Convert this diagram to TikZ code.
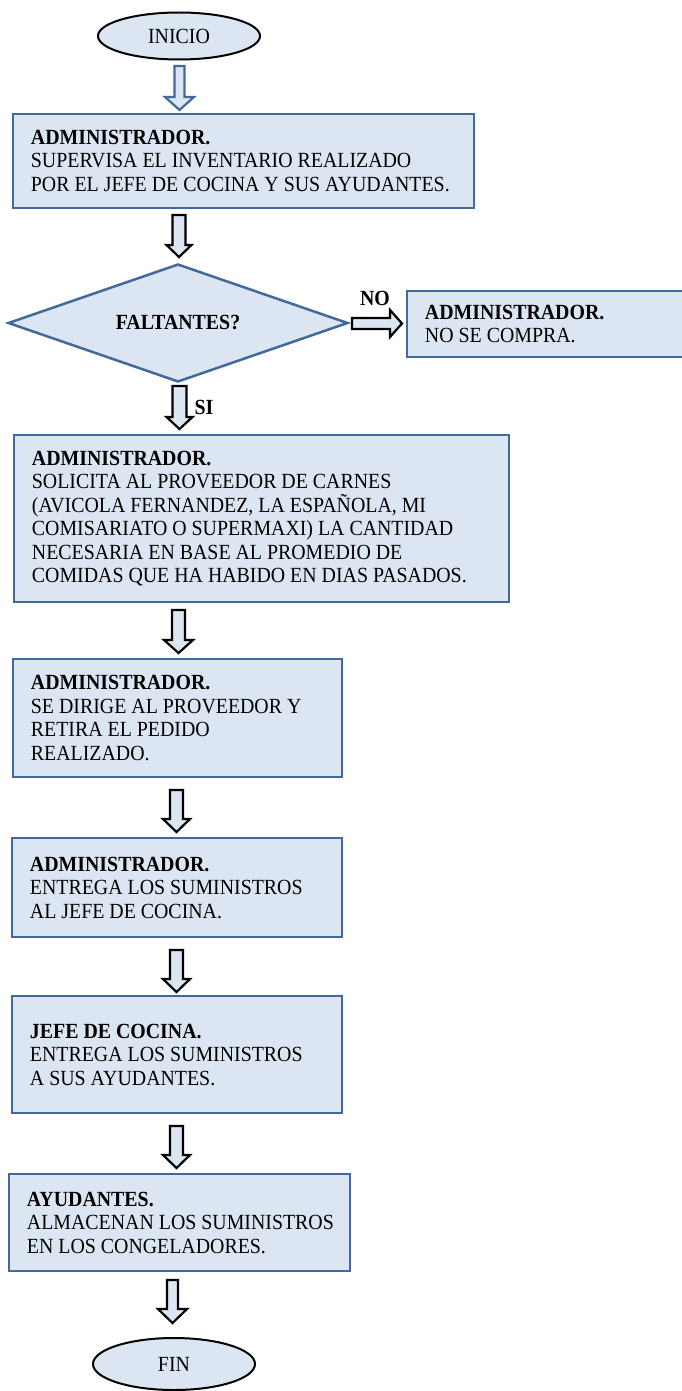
\documentclass[tikz,border=0pt]{standalone}
\usepackage{fontspec}
\setmainfont{Liberation Serif}[FakeStretch=0.92]
\usetikzlibrary{shapes.geometric}
\definecolor{boxfill}{HTML}{DCE6F2}
\definecolor{boxline}{HTML}{41699B}
\newcommand{\arrdown}[6][black]{%
  \begin{scope}[shift={(#2)}]
    \draw[blockarr, draw=#1] (-#3,0) -- (-#3,#6-#5) -- (-#4,#6-#5) -- (0,#6) -- (#4,#6-#5) -- (#3,#6-#5) -- (#3,0) -- cycle;
  \end{scope}}
\newcommand{\arrright}[6][black]{%
  \begin{scope}[shift={(#2)}]
    \draw[blockarr, draw=#1] (0,-#3) -- (#6-#5,-#3) -- (#6-#5,-#4) -- (#6,0) -- (#6-#5,#4) -- (#6-#5,#3) -- (0,#3) -- cycle;
  \end{scope}}
\begin{document}
\begin{tikzpicture}[x=1pt,y=-1pt,
  every node/.style={font=\fontsize{21.6}{23.5}\selectfont},
  box/.style={draw=boxline, fill=boxfill, line width=2.5pt, rectangle, inner sep=0pt},
  term/.style={draw=black, fill=boxfill, line width=2pt, ellipse, inner sep=0pt, minimum width=162pt},
  txt/.style={align=left, inner sep=0pt, anchor=west},
  blockarr/.style={fill=boxfill, line width=2.2pt, line join=miter},
  decision/.style={diamond, draw=boxline, fill=boxfill, line width=2.5pt, inner sep=0pt, aspect=2.9}
]
\useasboundingbox (0,0) rectangle (681,1391);

% terminals
\node[term, minimum height=47pt] (ini) at (179,36) {INICIO};
\node[term, minimum height=52pt] (fin) at (174,1364) {FIN};

% boxes
\node[box, minimum width=461pt, minimum height=94pt] (b1) at (243.5,161) {};
\node[txt] (t1) at ([xshift=19pt]b1.west) {\textbf{ADMINISTRADOR.}\\SUPERVISA EL INVENTARIO REALIZADO\\POR EL JEFE DE COCINA Y SUS AYUDANTES.};

\node[decision, minimum width=340pt, minimum height=118pt] (d) at (178,323) {\textbf{FALTANTES?}};

\node[box, minimum width=277pt, minimum height=66pt] (bno) at (545.5,324) {};
\node[txt] (tno) at ([xshift=19pt]bno.west) {\textbf{ADMINISTRADOR.}\\NO SE COMPRA.};

\node[box, minimum width=495pt, minimum height=167pt] (b3) at (261.5,518.5) {};
\node[txt] (t3) at ([xshift=19pt]b3.west) {\textbf{ADMINISTRADOR.}\\SOLICITA AL PROVEEDOR DE CARNES\\(AVICOLA FERNANDEZ, LA ESPAÑOLA, MI\\COMISARIATO O SUPERMAXI) LA CANTIDAD\\NECESARIA EN BASE AL PROMEDIO DE\\COMIDAS QUE HA HABIDO EN DIAS PASADOS.};

\node[box, minimum width=329pt, minimum height=118pt] (b4) at (177.5,718) {};
\node[txt] (t4) at ([xshift=19pt]b4.west) {\textbf{ADMINISTRADOR.}\\SE DIRIGE AL PROVEEDOR Y\\RETIRA EL PEDIDO\\REALIZADO.};

\node[box, minimum width=330pt, minimum height=99pt] (b5) at (177,887.5) {};
\node[txt] (t5) at ([xshift=19pt]b5.west) {\textbf{ADMINISTRADOR.}\\ENTREGA LOS SUMINISTROS\\AL JEFE DE COCINA.};

\node[box, minimum width=330pt, minimum height=117pt] (b6) at (177,1054.5) {};
\node[txt] (t6) at ([xshift=19pt]b6.west) {\textbf{JEFE DE COCINA.}\\ENTREGA LOS SUMINISTROS\\A SUS AYUDANTES.};

\node[box, minimum width=341pt, minimum height=97pt] (b7) at (179.5,1222.5) {};
\node[txt] (t7) at ([xshift=19pt]b7.west) {\textbf{AYUDANTES.}\\ALMACENAN LOS SUMINISTROS\\EN LOS CONGELADORES.};

% labels
\node (lno) at (375,298) {\textbf{NO}};
\node (lsi) at (204,407) {\textbf{SI}};

% connector anchor points
\coordinate (a1) at (179.5,66);
\coordinate (a2) at (179,215);
\coordinate (ano) at (352,323.5);
\coordinate (asi) at (179.5,386);
\coordinate (a4) at (178.5,610);
\coordinate (a5) at (176.5,790);
\coordinate (a6) at (176.5,950);
\coordinate (a7) at (176.5,1126);
\coordinate (a8) at (172.5,1280);

% block arrows
\arrdown[boxline]{a1}{5}{14.5}{13}{44}
\arrdown{a2}{6.5}{12.5}{12}{42}
\arrright{ano}{5.5}{13.5}{12}{50}
\arrdown{asi}{7}{13}{12}{43}
\arrdown{a4}{6.5}{14.5}{13}{43}
\arrdown{a5}{6.5}{13.5}{13}{42}
\arrdown{a6}{6.5}{13.5}{13}{42}
\arrdown{a7}{6.5}{13.5}{13}{42}
\arrdown{a8}{5.5}{14.5}{14}{43}
\end{tikzpicture}
\end{document}
